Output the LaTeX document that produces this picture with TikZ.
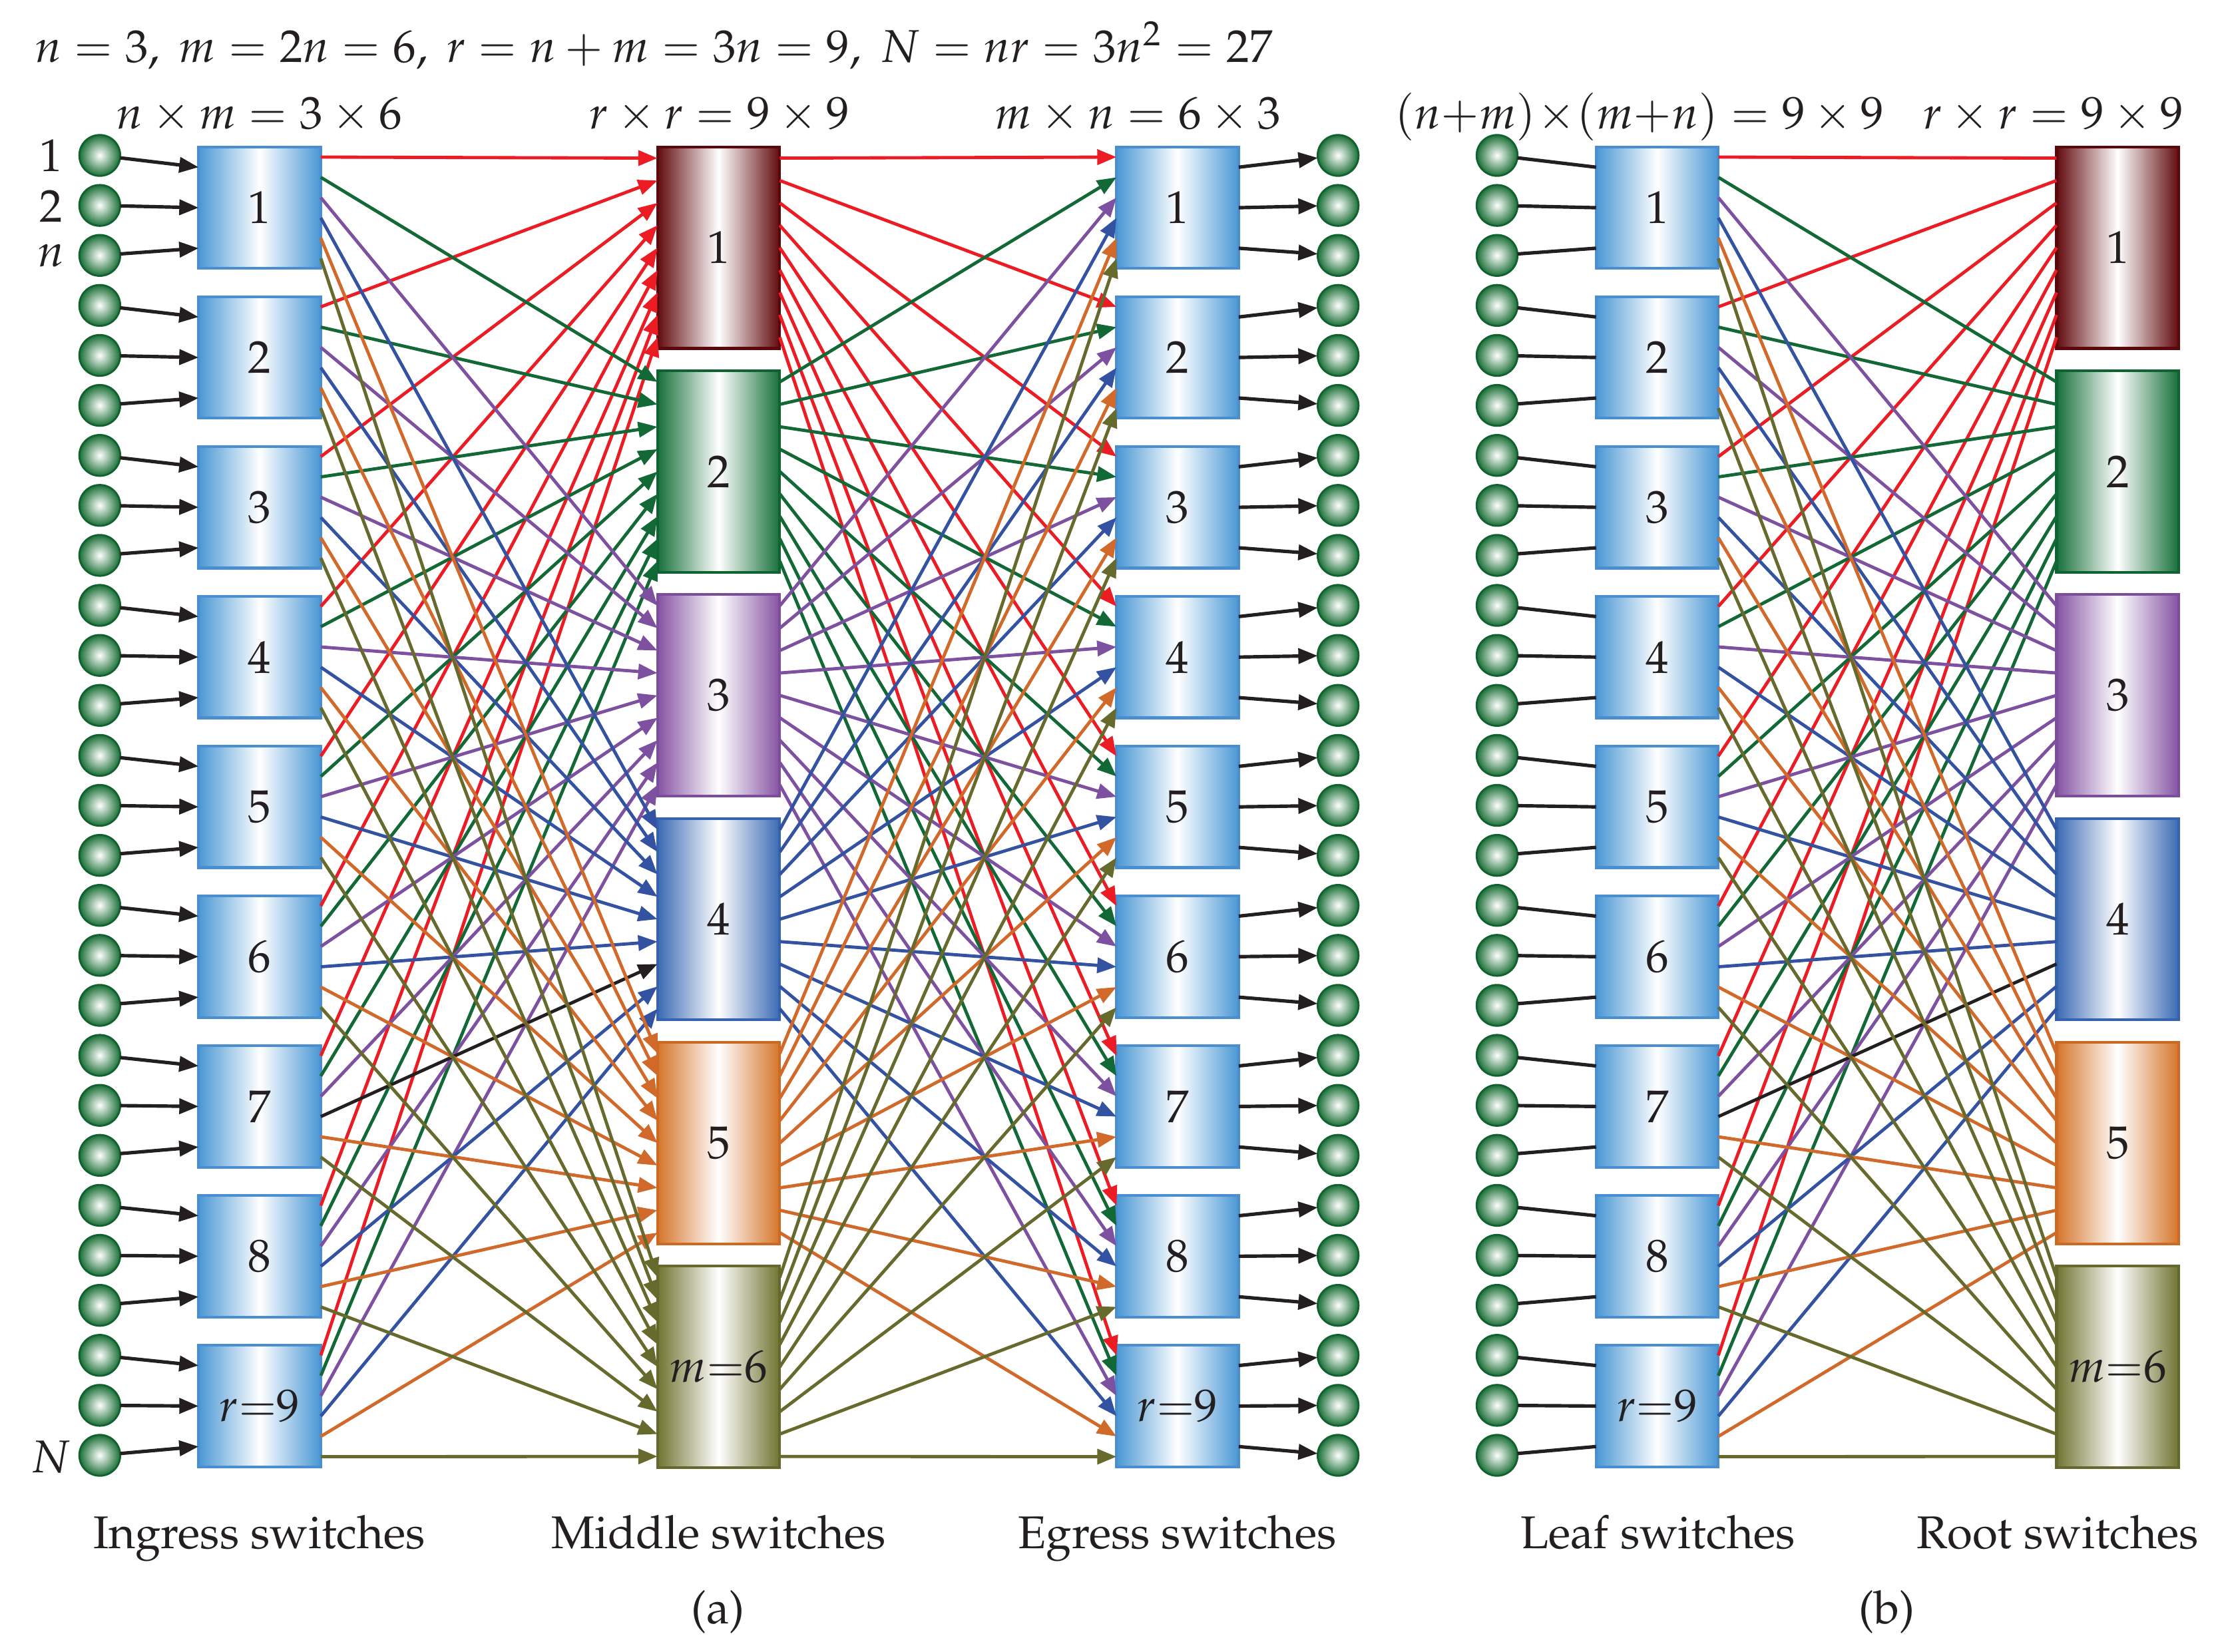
\documentclass[tikz,border=0pt]{standalone}
\usepackage[T1]{fontenc}
\usepackage{mathpazo}
\usetikzlibrary{arrows.meta,calc}
\definecolor{ink}{HTML}{231F20}
\definecolor{swblue}{HTML}{4A97D4}
\definecolor{swblueb}{HTML}{4A8ECF}
\definecolor{m1}{HTML}{620B0E}\definecolor{b1}{HTML}{5A080B}
\definecolor{m2}{HTML}{17703A}\definecolor{b2}{HTML}{0F6331}
\definecolor{m3}{HTML}{8553A3}\definecolor{b3}{HTML}{7C4D9B}
\definecolor{m4}{HTML}{3B6AB5}\definecolor{b4}{HTML}{3563AE}
\definecolor{m5}{HTML}{D5752A}\definecolor{b5}{HTML}{CC6A24}
\definecolor{m6}{HTML}{707432}\definecolor{b6}{HTML}{65682C}
\definecolor{c1}{HTML}{EC1C24}
\definecolor{c2}{HTML}{136935}
\definecolor{c3}{HTML}{7E50A0}
\definecolor{c4}{HTML}{3452A2}
\definecolor{c5}{HTML}{D0692A}
\definecolor{c6}{HTML}{676A2D}
\definecolor{hostg}{HTML}{1A6F36}
\definecolor{hostb}{HTML}{116030}
\begin{document}
\begin{tikzpicture}[x=0.3078pt,y=-0.3078pt,
  font=\fontsize{10}{12}\selectfont, text=ink,
  sw/.style={rectangle,inner sep=0pt,outer sep=0pt,
    minimum width=86.5*0.3078pt,minimum height=86*0.3078pt,
    left color=swblue,right color=swblue,middle color=white,
    draw=swblueb,line width=0.6pt},
  midsw/.style 2 args={rectangle,inner sep=0pt,outer sep=0pt,
    minimum width=86.5*0.3078pt,minimum height=142.6*0.3078pt,
    left color=#1,right color=#1,middle color=white,
    draw=#2,line width=0.6pt},
  host/.style={circle,inner sep=0pt,outer sep=0pt,minimum size=29*0.3078pt,
    inner color=white,outer color=hostg,draw=hostb,line width=0.4pt},
  link/.style={line width=0.7pt},
  tip/.style={-{Triangle[length=4.2pt,width=3.3pt]}},
  blk/.style={line width=0.75pt,color=ink}]
\useasboundingbox (0,0) rectangle (1568,1169);

% ---------- texts ----------
\node[anchor=base west,inner sep=0pt] (title) at (24,44)
  {$n=3,\ m=2n=6,\ r=n+m=3n=9,\ N=nr=3n^2=27$};
\node[anchor=base] (hin) at (183.5,91.3) {$n\times m=3\times 6$};
\node[anchor=base] (hmid) at (509,91.3) {$r\times r=9\times 9$};
\node[anchor=base] (heg) at (805,91.3) {$m\times n=6\times 3$};
\node[anchor=base] (hleaf) at (1160,91.3) {$(n{+}m)\!\times\!(m{+}n)=9\times 9$};
\node[anchor=base east,inner sep=0pt] (hroot) at (1545.5,91.3) {$r\times r=9\times 9$};
\node (l1) at (36,110) {1};
\node (l2) at (36,146) {2};
\node (ln) at (36,181) {$n$};
\node (lN) at (36,1031) {$N$};
\node[anchor=base] (tin) at (183.5,1096) {Ingress switches};
\node[anchor=base] (tmid) at (508.5,1096) {Middle switches};
\node[anchor=base] (teg) at (833,1096) {Egress switches};
\node[anchor=base] (tleaf) at (1173,1096) {Leaf switches};
\node[anchor=base] (troot) at (1456,1096) {Root switches};
\node[anchor=base] (capa) at (508,1149) {(a)};
\node[anchor=base] (capb) at (1335,1149) {(b)};

% ---------- hosts ----------
\foreach \p in {1,...,27}{
  \node[host] (a\p) at (70.6,{110+35.38*(\p-1)}) {};
  \node[host] (o\p) at (946.8,{110+35.38*(\p-1)}) {};
  \node[host] (h\p) at (1059.3,{110+35.38*(\p-1)}) {};
}

% ---------- switches ----------
\foreach \i in {1,...,8}{
  \node[sw] (in\i) at (183.75,{147+106*(\i-1)}) {\i};
  \node[sw] (eg\i) at (833.25,{147+106*(\i-1)}) {\i};
  \node[sw] (lf\i) at (1172.6,{147+106*(\i-1)}) {\i};
}
\node[sw] (in9) at (183.75,995) {$r{=}9$};
\node[sw] (eg9) at (833.25,995) {$r{=}9$};
\node[sw] (lf9) at (1172.6,995) {$r{=}9$};
\foreach \j in {1,...,5}{
  \node[midsw={m\j}{b\j}] (mid\j) at (508.5,{175.3+158.4*(\j-1)}) {\j};
  \node[midsw={m\j}{b\j}] (rt\j) at (1498.4,{175.3+158.4*(\j-1)}) {\j};
}
\node[midsw={m6}{b6}] (mid6) at (508.5,967.3) {$m{=}6$};
\node[midsw={m6}{b6}] (rt6) at (1498.4,967.3) {$m{=}6$};

% ---------- host links ----------
\foreach \i in {1,...,9}{
  \foreach \q in {1,2,3}{
    \pgfmathtruncatemacro\p{3*(\i-1)+\q}
    \draw[blk,tip] (a\p) -- ($(in\i.north west)!{(2*\q-1)/6}!(in\i.south west)$);
    \draw[blk,tip] ($(eg\i.north east)!{(2*\q-1)/6}!(eg\i.south east)$) -- (o\p);
    \draw[blk] (h\p) -- ($(lf\i.north west)!{(2*\q-1)/6}!(lf\i.south west)$);
  }
}

% ---------- switch links ----------
\foreach \j in {1,...,6}{
  \foreach \i in {1,...,9}{
    \ifnum\i=7 \ifnum\j=4 \def\lc{ink}\else\def\lc{c\j}\fi\else\def\lc{c\j}\fi
    \draw[link,tip,color=\lc]
      ($(in\i.north east)!{(\j-0.5)/6}!(in\i.south east)$) --
      ($(mid\j.north west)!{(\i-0.5)/9}!(mid\j.south west)$);
    \draw[link,color=\lc]
      ($(lf\i.north east)!{(\j-0.5)/6}!(lf\i.south east)$) --
      ($(rt\j.north west)!{(\i-0.5)/9}!(rt\j.south west)$);
    \draw[link,tip,color=c\j]
      ($(mid\j.north east)!{(\i-0.5)/9}!(mid\j.south east)$) --
      ($(eg\i.north west)!{(\j-0.5)/6}!(eg\i.south west)$);
  }
}
\end{tikzpicture}
\end{document}
